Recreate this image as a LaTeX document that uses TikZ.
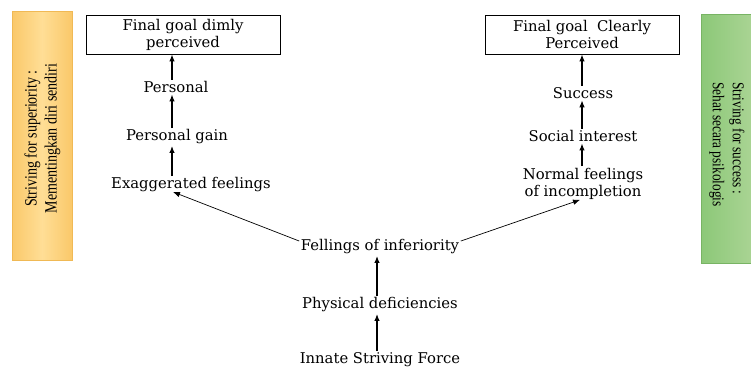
\documentclass[tikz,border=0pt]{standalone}
\usepackage{fontspec}
\setmainfont{DejaVu Serif}
\newfontfamily\sidefont[FakeStretch=0.81]{Liberation Serif}
\usetikzlibrary{arrows.meta,calc}
\definecolor{orgA}{RGB}{250,200,105}
\definecolor{orgB}{RGB}{255,222,150}
\definecolor{orgD}{RGB}{240,185,85}
\definecolor{grnA}{RGB}{140,200,120}
\definecolor{grnB}{RGB}{170,212,148}
\definecolor{grnD}{RGB}{120,180,100}
\begin{document}
\begin{tikzpicture}[x=1pt,y=-1pt,
  lbl/.style={font=\fontsize{14.8}{17}\selectfont, inner sep=1.5pt, align=center},
  goalbox/.style={draw, line width=0.8pt, minimum width=194pt, minimum height=39pt,
    align=center, font=\fontsize{14.8}{17}\selectfont, inner sep=0pt},
  sidetext/.style={inner sep=0pt},
  up/.style={-{Latex[length=7pt,width=5.5pt]}, line width=1.2pt},
  diag/.style={-{Latex[length=7pt,width=5.5pt]}, line width=0.7pt},
]
\useasboundingbox (0,0) rectangle (751,370);
% side panels
\node[draw=orgD, line width=0.6pt, left color=orgA, right color=orgA, middle color=orgB,
  minimum width=60pt, minimum height=249pt, inner sep=0pt] (lbox) at (42,135.5) {};
\node[draw=grnD, line width=0.6pt, left color=grnA, right color=grnB,
  minimum width=52pt, minimum height=249pt, inner sep=0pt] (rbox) at (727,138.5) {};
\node[sidetext, font=\sidefont\fontsize{17.3}{20}\selectfont, rotate=90, align=center] (ltext) at (42.5,138.5) {Striving for superiority :\\Mementingkan diri sendiri};
\node[sidetext, font=\sidefont\fontsize{16.5}{20}\selectfont, rotate=-90, align=left] (rtext) at (727,144.5) {Striving for success :\\Sehat secara psikologis};
% left column
\node[goalbox] (goalL) at (183,34.5) {Final goal dimly\\perceived};
\node[lbl] (personal) at (176,87) {Personal};
\node[lbl] (pgain) at (177,137) {Personal gain};
\node[lbl] (exag) at (191,185) {Exaggerated feelings};
% right column
\node[goalbox] (goalR) at (582,34.5) {Final goal\ \ Clearly\\Perceived};
\node[lbl] (success) at (583,93) {Success};
\node[lbl] (social) at (583,136) {Social interest};
\node[lbl] (normal) at (583,183.5) {Normal feelings\\of incompletion};
% centre
\node[lbl] (fell) at (380,247) {Fellings of inferiority};
\node[lbl] (phys) at (380,305) {Physical deficiencies};
\node[lbl] (innate) at (380,360) {Innate Striving Force};
% arrows
\draw[up] ([xshift=-4pt]personal.north) -- ([xshift=-4pt]personal.north |- goalL.south);
\draw[up] ([xshift=-5pt]pgain.north) -- ([xshift=-5pt]pgain.north |- personal.south);
\draw[up] ([xshift=-19pt]exag.north) -- ([xshift=-19pt]exag.north |- pgain.south);
\draw[up] ([xshift=-1pt]success.north) -- ([xshift=-1pt]success.north |- goalR.south);
\draw[up] ([xshift=-1pt]social.north) -- ([xshift=-1pt]social.north |- success.south);
\draw[up] ([xshift=-1pt]normal.north) -- ([xshift=-1pt]normal.north |- social.south);
\draw[up] ([xshift=-3pt]phys.north) -- ([xshift=-3pt]phys.north |- fell.south);
\draw[up] ([xshift=-3pt]innate.north) -- ([xshift=-3pt]innate.north |- phys.south);
\draw[diag] ([yshift=-3pt]fell.north west) -- ([xshift=-18pt,yshift=2pt]exag.south);
\draw[diag] ([yshift=-3pt]fell.north east) -- ([xshift=-3pt,yshift=1pt]normal.south);
\end{tikzpicture}
\end{document}
